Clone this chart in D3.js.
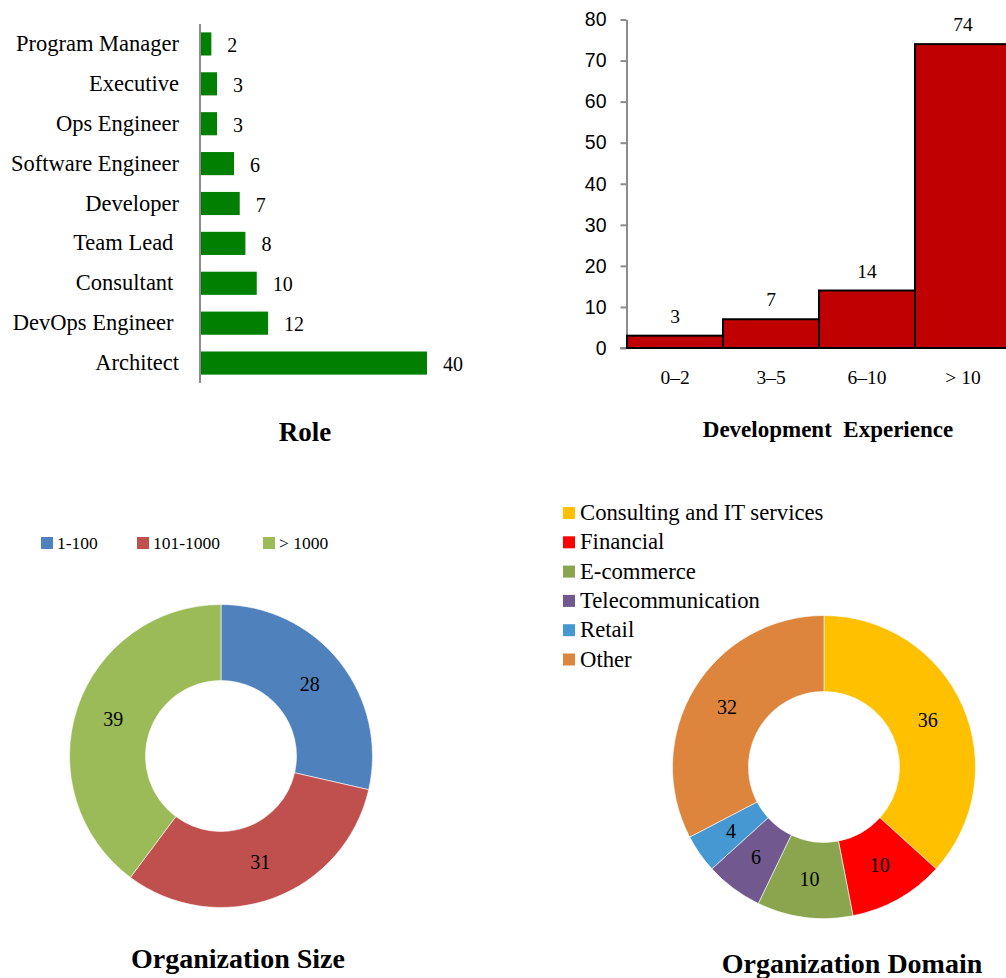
<!DOCTYPE html>
<html>
<head>
<meta charset="utf-8">
<script src="https://cdn.jsdelivr.net/npm/d3@7"></script>
<style>
  html, body { margin: 0; padding: 0; background: #fff; }
  svg { display: block; font-family: "Liberation Serif", "DejaVu Serif", serif; }
  text { white-space: pre; fill: #000; }
</style>
</head>
<body>
<svg id="chart" width="1006" height="978"></svg>
<script>
// ---- Role ----
const roleNames = ["Program Manager", "Executive", "Ops Engineer", "Software Engineer",
                   "Developer", "Team Lead ", "Consultant ", "DevOps Engineer ", "Architect"];
const roleCounts = [2, 3, 3, 6, 7, 8, 10, 12, 40];

// ---- Development experience (years) ----
const expBins = ["0–2", "3–5", "6–10", "> 10"];
const expCounts = [3, 7, 14, 74];
const expTicks = [0, 10, 20, 30, 40, 50, 60, 70, 80];

// ---- Organization size ----
const sizeNames = ["1-100", "101-1000", "> 1000"];
const sizeCounts = [28, 31, 39];
const sizeColors = ["#4F81BD", "#C0504D", "#9BBB59"];

// ---- Organization domain ----
const domainNames = ["Consulting and IT services", "Financial", "E-commerce",
                     "Telecommunication", "Retail", "Other"];
const domainCounts = [36, 10, 10, 6, 4, 32];
const domainColors = ["#FFC000", "#FF0000", "#8BA54F", "#71588F", "#4698D3", "#DD843D"];

const svg = d3.select("#chart");

// ================= Role: horizontal bars =================
{
  const g = svg.append("g");
  const x = d3.scaleLinear().domain([0, 40]).range([200, 427]);
  const y = d3.scaleBand().domain(roleNames).range([24, 383]).paddingInner(0.42).paddingOuter(0.21);

  g.selectAll("rect").data(roleNames).join("rect")
    .attr("x", x(0))
    .attr("y", d => y(d))
    .attr("width", (d, i) => x(roleCounts[i]) - x(0))
    .attr("height", y.bandwidth())
    .attr("fill", "#007F00");

  g.append("line")
    .attr("x1", x(0)).attr("x2", x(0))
    .attr("y1", 24).attr("y2", 383)
    .attr("stroke", "#8c8c8c").attr("stroke-width", 2);

  g.selectAll("text.cat").data(roleNames).join("text")
    .attr("class", "cat")
    .attr("x", 179)
    .attr("y", d => y(d) + y.bandwidth() / 2 + 7)
    .attr("text-anchor", "end")
    .attr("font-size", 22.5)
    .text(d => d);

  g.selectAll("text.val").data(roleNames).join("text")
    .attr("class", "val")
    .attr("x", (d, i) => x(roleCounts[i]) + 16)
    .attr("y", d => y(d) + y.bandwidth() / 2 + 8)
    .attr("font-size", 20)
    .text((d, i) => roleCounts[i]);

  g.append("text")
    .attr("x", 305).attr("y", 441)
    .attr("text-anchor", "middle")
    .attr("font-size", 27).attr("font-weight", "bold")
    .text("Role");
}

// ================= Development experience: histogram =================
{
  const g = svg.append("g");
  const x = d3.scaleBand().domain(expBins).range([627, 1011]).padding(0);
  const y = d3.scaleLinear().domain([0, 80]).range([348, 19.5]);

  const yAxis = d3.axisLeft(y).tickValues(expTicks).tickSize(6).tickSizeOuter(0).tickPadding(14);
  const ax = g.append("g").attr("transform", "translate(626.5,0)").call(yAxis);
  ax.select(".domain").attr("stroke", "#8c8c8c").attr("stroke-width", 2);
  ax.selectAll(".tick line").attr("stroke", "#8c8c8c").attr("stroke-width", 2);
  ax.selectAll(".tick text").attr("font-size", 19.5).attr("font-family", null).attr("fill", "#000");

  g.append("line")
    .attr("x1", 620).attr("x2", 1006)
    .attr("y1", y(0)).attr("y2", y(0))
    .attr("stroke", "#8c8c8c").attr("stroke-width", 2);

  g.selectAll("rect").data(expBins).join("rect")
    .attr("x", d => x(d))
    .attr("y", (d, i) => y(expCounts[i]))
    .attr("width", x.bandwidth())
    .attr("height", (d, i) => y(0) - y(expCounts[i]))
    .attr("fill", "#C00000")
    .attr("stroke", "#000").attr("stroke-width", 2);

  g.selectAll("text.val").data(expBins).join("text")
    .attr("class", "val")
    .attr("x", d => x(d) + x.bandwidth() / 2)
    .attr("y", (d, i) => y(expCounts[i]) - 13)
    .attr("text-anchor", "middle")
    .attr("font-size", 19.5)
    .text((d, i) => expCounts[i]);

  g.selectAll("text.cat").data(expBins).join("text")
    .attr("class", "cat")
    .attr("x", d => x(d) + x.bandwidth() / 2)
    .attr("y", 384)
    .attr("text-anchor", "middle")
    .attr("font-size", 19.5)
    .text(d => d);

  g.append("text")
    .attr("x", 828).attr("y", 437)
    .attr("text-anchor", "middle")
    .attr("font-size", 23).attr("font-weight", "bold")
    .text("Development  Experience");
}

// ================= Donut helper =================
function donut(cx, cy, counts, colors, labelSize) {
  const g = svg.append("g").attr("transform", `translate(${cx},${cy})`);
  const pie = d3.pie().sort(null).value(d => d);
  const arc = d3.arc().innerRadius(75.5).outerRadius(151.5);
  const arcs = pie(counts);
  g.selectAll("path").data(arcs).join("path")
    .attr("d", arc)
    .attr("fill", (d, i) => colors[i])
    .attr("stroke", "#fff").attr("stroke-width", 0.6);
  g.selectAll("text").data(arcs).join("text")
    .attr("transform", d => { const c = arc.centroid(d); return `translate(${c[0]},${c[1] + 6})`; })
    .attr("text-anchor", "middle")
    .attr("font-size", labelSize)
    .text(d => d.data);
  return g;
}

// ================= Organization size =================
{
  donut(221, 756, sizeCounts, sizeColors, 20);
  const legendX = [41, 137, 263];
  const lg = svg.append("g");
  sizeNames.forEach((n, i) => {
    lg.append("rect").attr("x", legendX[i]).attr("y", 537).attr("width", 12).attr("height", 12)
      .attr("fill", sizeColors[i]);
    lg.append("text").attr("x", legendX[i] + 16).attr("y", 549).attr("font-size", 17.5).text(n);
  });
  svg.append("text")
    .attr("x", 238).attr("y", 968)
    .attr("text-anchor", "middle")
    .attr("font-size", 28).attr("font-weight", "bold")
    .text("Organization Size");
}

// ================= Organization domain =================
{
  donut(824, 767, domainCounts, domainColors, 20);
  const rowY = d3.scalePoint().domain(domainNames).range([507, 653.5]);
  const lg = svg.append("g");
  lg.selectAll("rect").data(domainNames).join("rect")
    .attr("x", 563).attr("y", d => rowY(d)).attr("width", 12).attr("height", 12)
    .attr("fill", (d, i) => domainColors[i]);
  lg.selectAll("text").data(domainNames).join("text")
    .attr("x", 580).attr("y", d => rowY(d) + 13)
    .attr("font-size", 22.7)
    .text(d => d);
  svg.append("text")
    .attr("x", 852).attr("y", 973)
    .attr("text-anchor", "middle")
    .attr("font-size", 28).attr("font-weight", "bold")
    .text("Organization Domain");
}
</script>
</body>
</html>
